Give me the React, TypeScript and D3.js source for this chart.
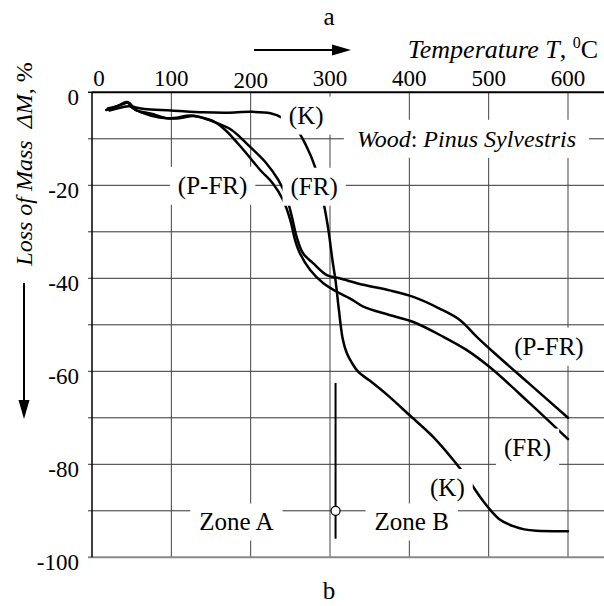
import React, { useRef, useEffect } from 'react';
import * as d3 from 'd3';

// temperature ticks (top axis) and mass-loss ticks (left axis)
const xTicks = [0, 100, 200, 300, 400, 500, 600];
const yTicks = [0, -20, -40, -60, -80, -100];
const yGrid = [0, -10, -20, -30, -40, -50, -60, -70, -80, -90, -100];

// curves: [T degC, dM %]
const curveK: [number, number][] = [
  [18, -3.8], [28, -3.2], [38, -2.6], [46, -2.2], [52, -3.1], [66, -3.6], [100, -3.9],
  [140, -4.3], [170, -4.4], [200, -4.2], [225, -4.5], [240, -5.5], [258, -8.0], [270, -11.5],
  [281, -16.0], [291, -23.0], [298, -29.6], [303, -36.0], [307, -40.5], [311, -46.5],
  [316, -53.0], [321, -56.0], [328, -58.3], [336, -60.2], [350, -62.0], [375, -65.5],
  [400, -69.4], [430, -74.1], [464, -80.9], [476, -83.7], [490, -87.2], [502, -89.8],
  [515, -92.0], [531, -93.3], [545, -94.0], [560, -94.3], [600, -94.4],
];
const curvePFR: [number, number][] = [
  [20, -3.5], [32, -3.0], [44, -2.1], [50, -3.2], [62, -4.3], [85, -5.4], [110, -5.6],
  [128, -5.1], [145, -5.8], [160, -6.8], [176, -8.1], [199, -11.7], [220, -15.3], [235, -18.9],
  [245, -22.5], [252, -26.8], [258, -31.1], [266, -34.6], [279, -36.8], [296, -39.3],
  [312, -40.0], [342, -41.4], [375, -42.6], [405, -44.0], [438, -46.5], [464, -49.0],
  [485, -52.6], [510, -56.5], [550, -62.5], [600, -70.0],
];
const curveFR: [number, number][] = [
  [22, -3.9], [34, -3.4], [48, -3.0], [56, -3.9], [75, -4.6], [96, -5.6], [125, -5.0],
  [142, -5.6], [155, -6.4], [168, -8.1], [191, -12.4], [212, -16.7], [228, -19.6],
  [241, -23.2], [250, -27.5], [256, -31.8], [262, -34.6], [275, -38.2], [292, -41.1],
  [312, -43.2], [325, -44.3], [342, -46.1], [375, -47.9], [405, -49.4], [443, -52.6],
  [472, -55.4], [502, -59.2], [552, -66.9], [600, -74.6],
];

// zone separator
const zoneT = 307;
const zoneRange = [-62.5, -96];
const zonePoint = -90;

// labels with white boxes
const labels = [
  { text: '(K)', t: 270, m: -4.9, pad: 8 },
  { text: '(P-FR)', t: 152, m: -20, pad: 8 },
  { text: '(FR)', t: 280, m: -20.2, pad: 8 },
  { text: '(P-FR)', t: 576, m: -54.6, pad: 3 },
  { text: '(FR)', t: 549, m: -76.3, pad: 8 },
  { text: '(K)', t: 448, m: -85, pad: 8 },
  { text: 'Zone A', t: 182, m: -92.4, pad: 9 },
  { text: 'Zone B', t: 403, m: -92.4, pad: 9 },
];

const FONT = 'Liberation Serif, DejaVu Serif';

function App() {
  const svgRef = useRef<SVGSVGElement>(null);

  useEffect(() => {
    const svg = d3.select(svgRef.current);
    svg.selectAll('*').remove();

    const x = d3.scaleLinear().domain([0, 600]).range([92, 568]);
    const y = d3.scaleLinear().domain([0, -100]).range([92.3, 557.3]);
    const xEnd = 604;

    const g = svg.append('g').attr('font-family', FONT).attr('font-size', 23);

    // grid
    g.selectAll('.hgrid').data(yGrid.slice(1, -1)).enter().append('line')
      .attr('x1', x(0) - 4).attr('x2', xEnd)
      .attr('y1', d => y(d)).attr('y2', d => y(d))
      .attr('stroke', '#333').attr('stroke-width', 1);
    g.selectAll('.vgrid').data(xTicks.slice(1)).enter().append('line')
      .attr('x1', d => x(d)).attr('x2', d => x(d))
      .attr('y1', y(0)).attr('y2', y(-100))
      .attr('stroke', '#444').attr('stroke-width', 1);

    // frame
    g.append('line').attr('x1', x(0)).attr('x2', xEnd).attr('y1', y(0)).attr('y2', y(0))
      .attr('stroke', '#000').attr('stroke-width', 2);
    g.append('line').attr('x1', x(0) - 4).attr('x2', xEnd).attr('y1', y(-100)).attr('y2', y(-100))
      .attr('stroke', '#888').attr('stroke-width', 2);
    g.append('line').attr('x1', x(0)).attr('x2', x(0)).attr('y1', y(0)).attr('y2', y(-100))
      .attr('stroke', '#000').attr('stroke-width', 1.5);
    g.append('line').attr('x1', x(0) - 4).attr('x2', x(0)).attr('y1', y(0)).attr('y2', y(0))
      .attr('stroke', '#000').attr('stroke-width', 1.5);

    // tick labels
    g.selectAll('.xl').data(xTicks).enter().append('text')
      .attr('x', d => x(d) + (d === 0 ? 7 : 0))
      .attr('y', d => (d === 200 ? 88 : 86))
      .attr('text-anchor', 'middle')
      .text(d => d);
    g.selectAll('.yl').data(yTicks).enter().append('text')
      .attr('x', 79)
      .attr('y', d => y(d) + 13)
      .attr('text-anchor', 'end')
      .text(d => d);

    // curves
    const line = d3.line<[number, number]>()
      .x(d => x(d[0])).y(d => y(d[1]))
      .curve(d3.curveCatmullRom.alpha(0.5));
    [curveK, curvePFR, curveFR].forEach(c => {
      g.append('path').attr('d', line(c)).attr('fill', 'none')
        .attr('stroke', '#000').attr('stroke-width', 2.5)
        .attr('stroke-linejoin', 'round').attr('stroke-linecap', 'round');
    });

    // wood label
    const wood = g.append('text').attr('x', x(472)).attr('y', y(-10))
      .attr('text-anchor', 'middle').attr('dominant-baseline', 'central')
      .attr('font-size', 24);
    wood.append('tspan').attr('font-style', 'italic').text('Wood');
    wood.append('tspan').text(': ');
    wood.append('tspan').attr('font-style', 'italic').text('Pinus Sylvestris');
    const wb = (wood.node() as SVGTextElement).getBBox();
    g.insert('rect', () => wood.node())
      .attr('x', wb.x - 13).attr('y', wb.y - 6).attr('width', wb.width + 26).attr('height', wb.height + 12)
      .attr('fill', '#fff');

    // labels with white boxes
    labels.forEach(l => {
      const t = g.append('text').attr('x', x(l.t)).attr('y', y(l.m))
        .attr('text-anchor', 'middle').attr('dominant-baseline', 'central')
        .attr('font-size', 25).text(l.text);
      const b = (t.node() as SVGTextElement).getBBox();
      g.insert('rect', () => t.node())
        .attr('x', b.x - l.pad).attr('y', b.y - 5).attr('width', b.width + 2 * l.pad).attr('height', b.height + 10)
        .attr('fill', '#fff');
    });

    // zone separator
    g.append('line').attr('x1', x(zoneT)).attr('x2', x(zoneT))
      .attr('y1', y(zoneRange[0])).attr('y2', y(zoneRange[1]))
      .attr('stroke', '#000').attr('stroke-width', 2);
    g.append('circle').attr('cx', x(zoneT)).attr('cy', y(zonePoint)).attr('r', 4.5)
      .attr('fill', '#fff').attr('stroke', '#000').attr('stroke-width', 1.2);

    // titles
    g.append('text').attr('x', 329).attr('y', 25).attr('text-anchor', 'middle').attr('font-size', 25).text('a');
    g.append('text').attr('x', 329).attr('y', 599).attr('text-anchor', 'middle').attr('font-size', 25).text('b');

    const xt = g.append('text').attr('x', 598).attr('y', 58).attr('text-anchor', 'end').attr('font-size', 26);
    xt.append('tspan').attr('font-style', 'italic').text('Temperature T');
    xt.append('tspan').text(', ');
    xt.append('tspan').attr('font-size', 16).attr('dy', -10).text('0');
    xt.append('tspan').attr('dy', 10).text('C');

    // arrow right
    g.append('line').attr('x1', 254).attr('x2', 334).attr('y1', 50).attr('y2', 50)
      .attr('stroke', '#000').attr('stroke-width', 2);
    g.append('path').attr('d', 'M332,44.5 L351,50 L332,55.5 Z').attr('fill', '#000');

    const yt = g.append('text')
      .attr('transform', 'translate(32,164) rotate(-90)')
      .attr('text-anchor', 'middle').attr('font-size', 24);
    yt.append('tspan').attr('font-style', 'italic').text('Loss of Mass\u00a0\u00a0\u0394M');
    yt.append('tspan').text(', %');

    // arrow down
    g.append('line').attr('x1', 24).attr('x2', 24).attr('y1', 283).attr('y2', 402)
      .attr('stroke', '#000').attr('stroke-width', 2);
    g.append('path').attr('d', 'M18.5,400 L24,419 L29.5,400 Z').attr('fill', '#000');
  }, []);

  return (
    <svg ref={svgRef} width={604} height={606}
      style={{ position: 'absolute', left: 0, top: 0, background: '#fff' }} />
  );
}

export default App;
